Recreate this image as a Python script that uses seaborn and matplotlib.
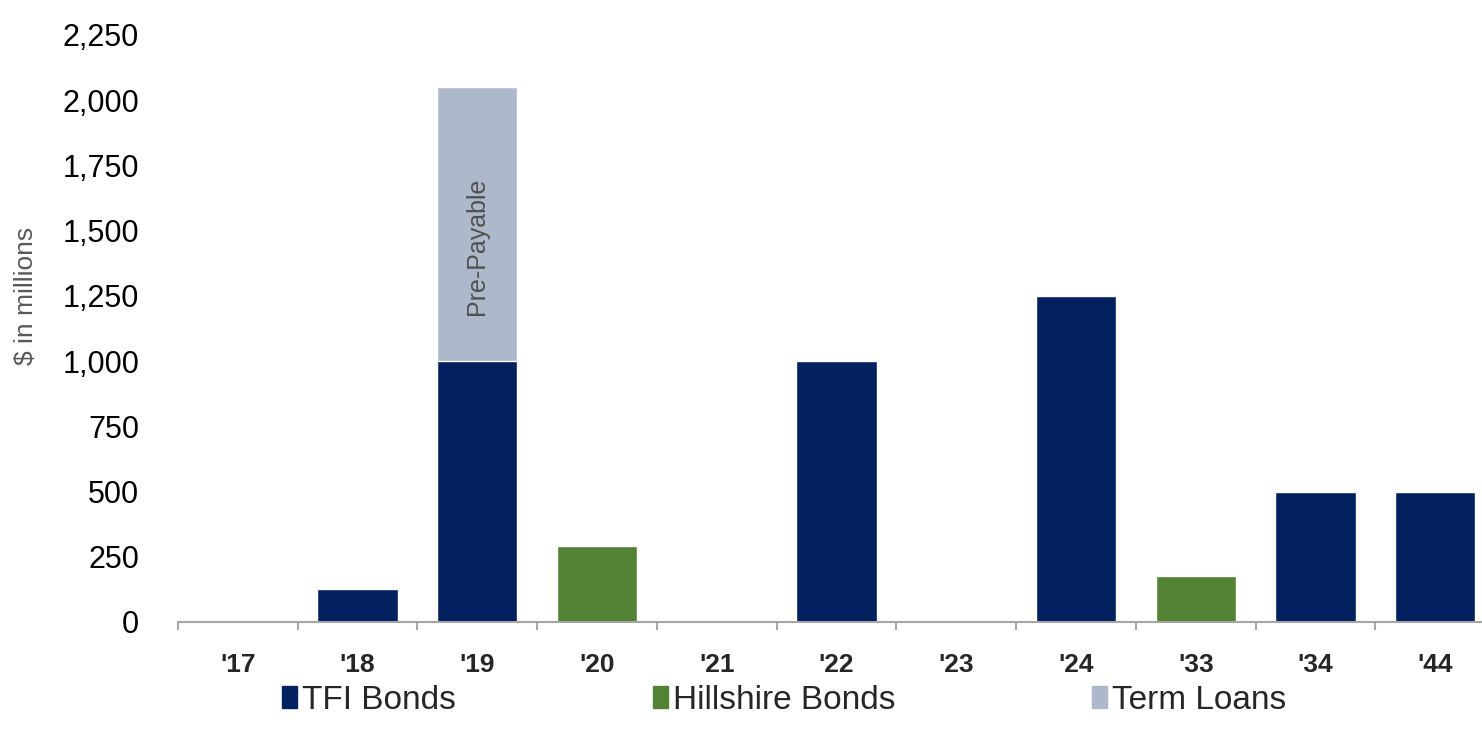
import numpy as np
import pandas as pd
import matplotlib
matplotlib.use("Agg")
import matplotlib.pyplot as plt
import matplotlib.patches as mpatches
import seaborn as sns

# dados ($ em milhoes)
anos = ["'17", "'18", "'19", "'20", "'21", "'22", "'23", "'24", "'33", "'34", "'44"]
tfi_bonds = [0, 125, 1000, 0, 0, 1000, 0, 1250, 0, 500, 500]
hillshire_bonds = [0, 0, 0, 290, 0, 0, 0, 0, 175, 0, 0]
term_loans = [0, 0, 1050, 0, 0, 0, 0, 0, 0, 0, 0]
y_ticks = [0, 250, 500, 750, 1000, 1250, 1500, 1750, 2000, 2250]

cor_tfi = "#03215f"
cor_hill = "#548235"
cor_term = "#adb9ca"

df = pd.DataFrame({"ano": anos, "tfi": tfi_bonds, "hill": hillshire_bonds, "term": term_loans})
df["total"] = df["tfi"] + df["term"]

sns.set_theme(style="white")
plt.rcParams["font.family"] = ["Liberation Sans", "DejaVu Sans"]

fig = plt.figure(figsize=(14.82, 7.41), dpi=100, facecolor="white")
ax = fig.add_axes([0.1201, 0.1606, 1.0 - 0.1201, 0.9528 - 0.1606])
ax.set_facecolor("white")

# barras empilhadas: total (term loans) por baixo, depois TFI e Hillshire
sns.barplot(data=df, x="ano", y="total", color=cor_term, width=0.67, saturation=1, ax=ax)
sns.barplot(data=df, x="ano", y="tfi", color=cor_tfi, width=0.67, saturation=1, ax=ax)
sns.barplot(data=df, x="ano", y="hill", color=cor_hill, width=0.67, saturation=1, ax=ax)

# marcas do eixo x entre as categorias
ax.set_xticks(np.arange(-0.5, len(anos), 1.0), minor=True)
ax.tick_params(axis="x", which="minor", length=6, width=1.5, color="#a6a6a6", direction="out", bottom=True)

ax.set_ylim(0, 2250)
ax.set_xlim(-0.5, 10.39)
ax.set_yticks(y_ticks)
ax.set_yticklabels([f"{v:,}" for v in y_ticks], fontsize=22, color="black")
ax.tick_params(axis="y", length=0, pad=28)
ax.tick_params(axis="x", which="major", length=0, pad=22, labelsize=19)
for lbl in ax.get_xticklabels():
    lbl.set_fontweight("bold")

for lado in ["top", "right", "left"]:
    ax.spines[lado].set_visible(False)
ax.spines["bottom"].set_color("#a6a6a6")
ax.spines["bottom"].set_linewidth(1.5)

ax.set_xlabel("")
ax.set_ylabel("$ in millions", fontsize=19, color="#595959")
ax.yaxis.set_label_coords(-0.107, 0.555)
ax.grid(False)

# texto dentro da barra de '19
ax.text(2, 1440, "Pre-Payable", rotation=90, ha="center", va="center", fontsize=18, color="#505050")

# legenda
handles = [mpatches.Patch(color=cor_tfi, label="TFI Bonds"),
           mpatches.Patch(color=cor_hill, label="Hillshire Bonds"),
           mpatches.Patch(color=cor_term, label="Term Loans")]
fig.legend(handles=handles, loc="center", bbox_to_anchor=(0.529, 0.055), ncol=3, frameon=False,
           fontsize=24, handlelength=0.45, handleheight=0.6, handletextpad=0.15, columnspacing=5.9,
           borderpad=0, borderaxespad=0)

fig.savefig("out.png", dpi=100, facecolor="white")
